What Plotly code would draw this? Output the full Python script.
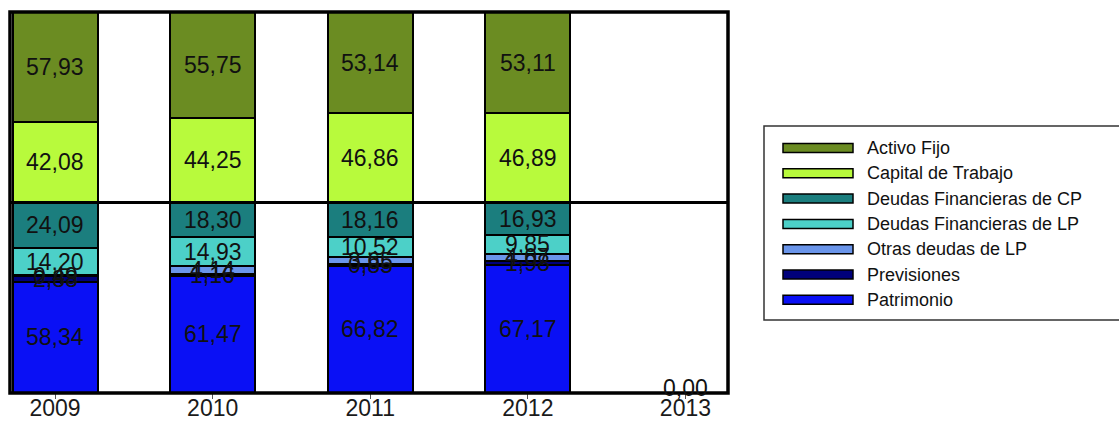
import plotly.graph_objects as go

years = ["2009", "2010", "2011", "2012", "2013"]
patrimonio = [58.34, 61.47, 66.82, 67.17, 0.0]
previsiones = [2.88, 1.16, 0.85, 1.98, 0.0]
otras_lp = [0.49, 4.14, 3.65, 4.07, 0.0]
deudas_lp = [14.20, 14.93, 10.52, 9.85, 0.0]
deudas_cp = [24.09, 18.30, 18.16, 16.93, 0.0]
capital_trabajo = [42.08, 44.25, 46.86, 46.89, 0.0]
activo_fijo = [57.93, 55.75, 53.14, 53.11, 0.0]

series = [
    ("Patrimonio", patrimonio, "#0a10f5"),
    ("Previsiones", previsiones, "#00007a"),
    ("Otras deudas de LP", otras_lp, "#6a95ea"),
    ("Deudas Financieras de LP", deudas_lp, "#4cd0c8"),
    ("Deudas Financieras de CP", deudas_cp, "#1b7e7e"),
    ("Capital de Trabajo", capital_trabajo, "#b8fa3c"),
    ("Activo Fijo", activo_fijo, "#6b8c22"),
]

W, H = 1119, 421
# screen positions of the plot frame
L, R, T, B = 10, 728, 12, 393

def px_x(x):
    return (x - L) / (R - L)

def px_y(y):
    return (B - y) / (B - T)

FONT = "Liberation Sans, Arial, sans-serif"

fig = go.Figure()
base = [0.0] * len(years)
annotations = []
for name, vals, col in series:
    fig.add_trace(go.Bar(
        x=years, y=vals, name=name, marker=dict(color=col, line=dict(color="black", width=2)),
        width=0.54, showlegend=False,
    ))
    for i, v in enumerate(vals):
        if i == len(years) - 1 and name != "Patrimonio":
            continue
        annotations.append(dict(
            x=i, y=base[i] + v / 2, xref="x", yref="y",
            text=f"{v:.2f}".replace(".", ","), showarrow=False,
            yshift=5 if v == 0 else 0,
            font=dict(family=FONT, size=23, color="#111111"),
        ))
        base[i] += v

shapes = [
    dict(type="line", xref="paper", yref="y", x0=0, x1=1, y0=100, y1=100,
         line=dict(color="black", width=3)),
    dict(type="rect", xref="paper", yref="paper", x0=0, x1=1, y0=0, y1=1,
         line=dict(color="black", width=3.5)),
    dict(type="rect", xref="paper", yref="paper", x0=px_x(764), x1=px_x(1125),
         y0=px_y(320), y1=px_y(126), line=dict(color="#333333", width=1.5), fillcolor="white"),
]

legend_order = list(reversed(series))
for k, (name, vals, col) in enumerate(legend_order):
    yc = 148 + k * 25.3
    shapes.append(dict(type="rect", xref="paper", yref="paper",
                       x0=px_x(783), x1=px_x(853), y0=px_y(yc + 4.5), y1=px_y(yc - 4.5),
                       fillcolor=col, line=dict(color="black", width=1.5)))
    annotations.append(dict(x=px_x(865), y=px_y(yc), xref="paper", yref="paper",
                            text=name, showarrow=False, xanchor="left", yanchor="middle",
                            font=dict(family=FONT, size=18, color="#111111")))

fig.update_layout(
    barmode="stack",
    width=W, height=H, autosize=False,
    margin=dict(l=L, r=W - R, t=T, b=H - B, pad=0, autoexpand=False),
    paper_bgcolor="white", plot_bgcolor="white",
    shapes=shapes,
    annotations=annotations,
    xaxis=dict(type="category", range=[-0.286, 4.27], showgrid=False, zeroline=False,
               automargin=False, ticks="outside", ticklen=5, tickwidth=1, tickcolor="#555555",
               ticklabelstandoff=-11,
               tickfont=dict(family=FONT, size=23, color="#1a1a1a")),
    yaxis=dict(range=[0, 200], showgrid=False, zeroline=False, showticklabels=False,
               automargin=False, ticks=""),
)

fig.write_html(
    "out.html",
    config={"displayModeBar": False},
    post_script="document.body.style.margin='0';document.body.style.overflow='hidden';",
)
